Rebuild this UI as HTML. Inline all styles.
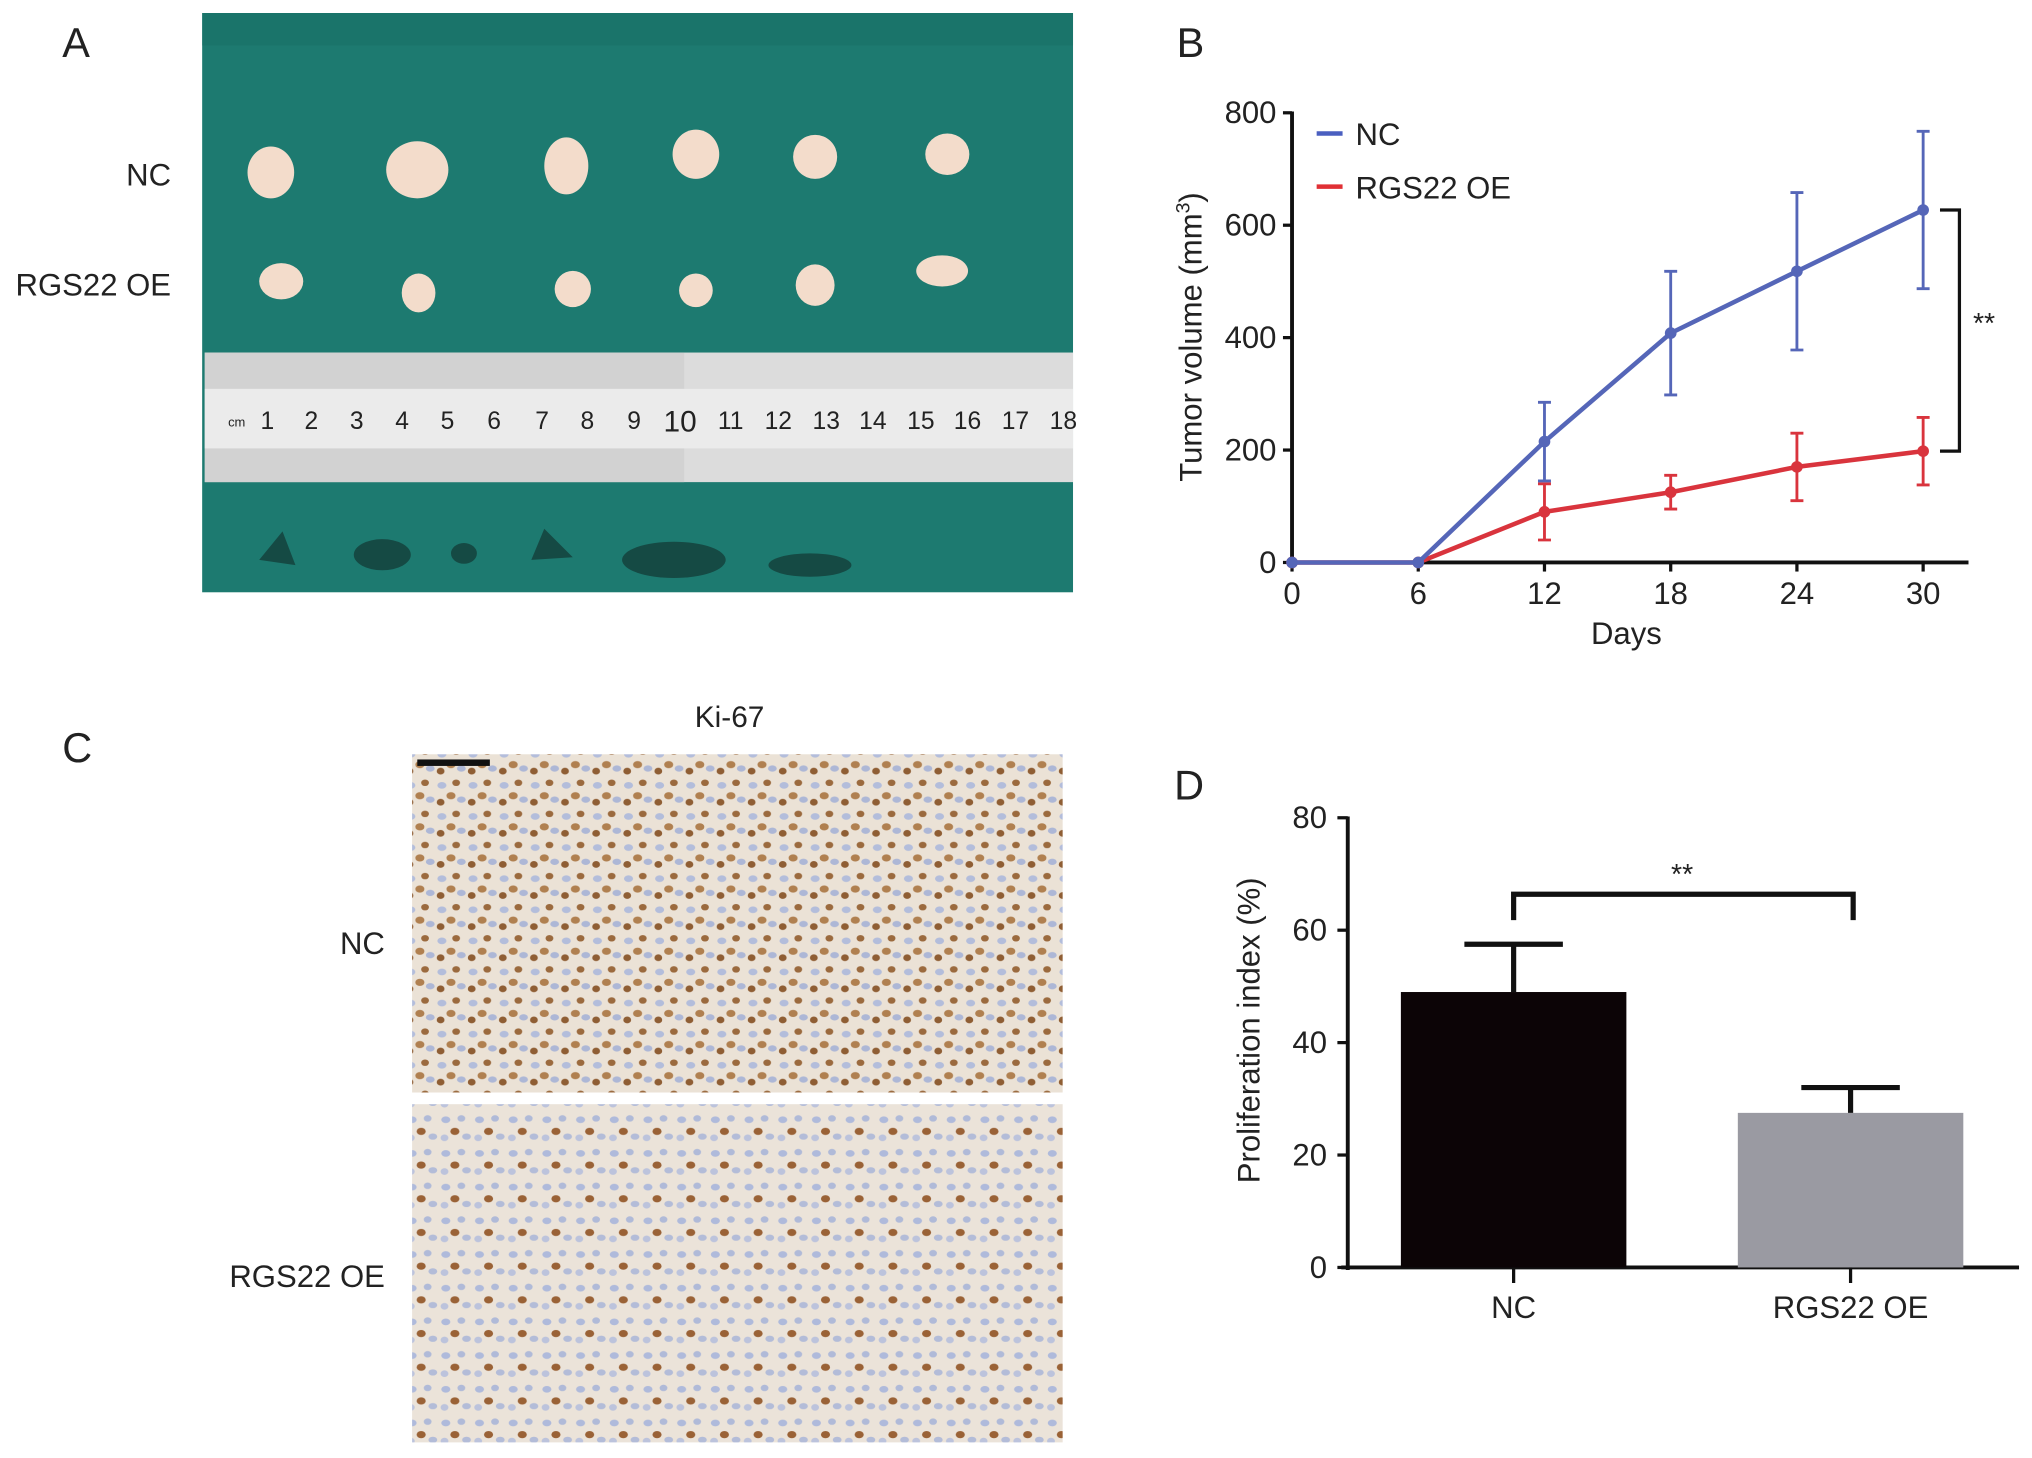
<!DOCTYPE html>
<html><head><meta charset="utf-8"><style>
html,body{margin:0;padding:0;background:#fff}
svg{display:block}
text{font-family:"Liberation Sans",Arial,sans-serif;fill:#222}
</style></head><body>
<svg id="fig" width="2032" height="1458" viewBox="0 0 1568 1125" xmlns="http://www.w3.org/2000/svg">
<defs>
<pattern id="tissueA" width="24" height="24" patternUnits="userSpaceOnUse">
<rect width="24" height="24" fill="#ebe2d6"/>
<ellipse cx="5" cy="6" rx="3.5" ry="2.6" fill="#b3bddb"/>
<ellipse cx="16" cy="4" rx="3" ry="2.5" fill="#9b6a3e"/>
<ellipse cx="12" cy="14" rx="3.5" ry="2.8" fill="#b08050"/>
<ellipse cx="20" cy="17" rx="3.4" ry="2.4" fill="#adb7d6"/>
<ellipse cx="4" cy="19" rx="3" ry="2.6" fill="#8f5e34"/>
</pattern>
<pattern id="tissueB" width="26" height="26" patternUnits="userSpaceOnUse">
<rect width="26" height="26" fill="#ebe3d9"/>
<ellipse cx="6" cy="6" rx="3.5" ry="2.6" fill="#afbadb"/>
<ellipse cx="18" cy="5" rx="3" ry="2.5" fill="#b0bad8"/>
<ellipse cx="13" cy="15" rx="3.5" ry="2.8" fill="#9a6236"/>
<ellipse cx="22" cy="19" rx="3.4" ry="2.4" fill="#b3bcd8"/>
<ellipse cx="5" cy="20" rx="3" ry="2.6" fill="#bcc3dc"/>
</pattern>
</defs>

<!-- Panel A -->
<text x="48" y="44" font-size="32">A</text>
<g>
<rect x="156" y="10" width="672" height="447" fill="#1d7a70"/>
<rect x="156" y="10" width="672" height="25" fill="#186d63" opacity="0.5"/>
<g fill="#f3dccb">
<ellipse cx="209" cy="133" rx="18" ry="20"/><ellipse cx="322" cy="131" rx="24" ry="22"/><ellipse cx="437" cy="128" rx="17" ry="22"/>
<ellipse cx="537" cy="119" rx="18" ry="19"/><ellipse cx="629" cy="121" rx="17" ry="17"/><ellipse cx="731" cy="119" rx="17" ry="16"/>
<ellipse cx="217" cy="217" rx="17" ry="14"/><ellipse cx="323" cy="226" rx="13" ry="15"/><ellipse cx="442" cy="223" rx="14" ry="14"/>
<ellipse cx="537" cy="224" rx="13" ry="13"/><ellipse cx="629" cy="220" rx="15" ry="16"/><ellipse cx="727" cy="209" rx="20" ry="12"/>
</g>
<g>
<rect x="158" y="272" width="670" height="100" fill="#dcdcdc"/>
<rect x="158" y="272" width="370" height="100" fill="#d2d2d2"/>
<rect x="158" y="300" width="670" height="46" fill="#ebebeb"/>
<g font-size="19" fill="#333">
<text x="176" y="329" font-size="10">cm</text>
<text x="201" y="331">1</text><text x="235" y="331">2</text><text x="270" y="331">3</text><text x="305" y="331">4</text><text x="340" y="331">5</text><text x="376" y="331">6</text><text x="413" y="331">7</text><text x="448" y="331">8</text><text x="484" y="331">9</text>
<text x="512" y="333" font-size="23" fill="#d23a5a">10</text>
<text x="554" y="331">11</text><text x="590" y="331">12</text><text x="627" y="331">13</text><text x="663" y="331">14</text><text x="700" y="331">15</text><text x="736" y="331">16</text><text x="773" y="331">17</text><text x="810" y="331">18</text>
</g>
</g>
<g fill="#154a44">
<path d="M200 432 L218 410 L228 436 Z"/><ellipse cx="295" cy="428" rx="22" ry="12"/><ellipse cx="358" cy="427" rx="10" ry="8"/>
<path d="M410 432 L420 408 L442 430 Z"/><ellipse cx="520" cy="432" rx="40" ry="14"/><ellipse cx="625" cy="436" rx="32" ry="9"/>
</g>
</g>
<text x="132" y="143" font-size="24" text-anchor="end">NC</text>
<text x="132" y="228" font-size="24" text-anchor="end">RGS22 OE</text>

<!-- Panel C -->
<text x="48" y="588" font-size="32">C</text>
<text x="563" y="561" font-size="23" text-anchor="middle">Ki-67</text>
<rect x="318" y="582" width="502" height="261" fill="url(#tissueA)"/>
<rect x="318" y="852" width="502" height="261" fill="url(#tissueB)"/>
<rect x="322" y="586" width="56" height="5" fill="#111"/>
<text x="297" y="736" font-size="24" text-anchor="end">NC</text>
<text x="297" y="993" font-size="24" text-anchor="end">RGS22 OE</text>

<!-- Panel B -->
<text x="908" y="44" font-size="32">B</text>
<g id="chartB"></g>

<!-- Panel D -->
<text x="906" y="617" font-size="32">D</text>
<g id="chartD"></g>
</svg>
<script>
const daysB = [0, 6, 12, 18, 24, 30];
const ncMean = [0, 0, 215, 408, 518, 627];
const ncErr = [0, 0, 70, 110, 140, 140];
const oeMean = [0, 0, 90, 125, 170, 198];
const oeErr = [0, 0, 50, 30, 60, 60];
const yTicksB = [0, 200, 400, 600, 800];

const groupsD = ["NC", "RGS22 OE"];
const valuesD = [49, 27.5];
const errD = [8.5, 4.5];
const yTicksD = [0, 20, 40, 60, 80];

const NS = "http://www.w3.org/2000/svg";
function mk(parent, tag, attrs, txt) {
  const e = document.createElementNS(NS, tag);
  for (const k in attrs) e.setAttribute(k, attrs[k]);
  if (txt !== undefined) e.textContent = txt;
  parent.appendChild(e);
  return e;
}

// Chart B
const gB = document.getElementById('chartB');
const xB = d => 997 + (d - 0) / 30 * (1484 - 997);
const yB = v => 434 - v / 800 * (434 - 87);
let e;
e = mk(gB, 'line', {x1: 997, y1: 86, x2: 997, y2: 436, stroke: '#111', 'stroke-width': 3});
 
e = mk(gB, 'line', {x1: 995, y1: 434, x2: 1519, y2: 434, stroke: '#111', 'stroke-width': 3});
 
yTicksB.forEach(t => {
  mk(gB, 'line', {x1: 990, y1: yB(t), x2: 997, y2: yB(t), stroke: '#111', 'stroke-width': 2.5});
  e = mk(gB, 'text', {x: 985, y: yB(t) + 8, 'font-size': 24, 'text-anchor': 'end'}, t);
   
});
daysB.forEach(d => {
  mk(gB, 'line', {x1: xB(d), y1: 434, x2: xB(d), y2: 441, stroke: '#111', 'stroke-width': 2.5});
  e = mk(gB, 'text', {x: xB(d), y: 466, 'font-size': 24, 'text-anchor': 'middle'}, d);
   
});
e = mk(gB, 'text', {x: 1255, y: 497, 'font-size': 24, 'text-anchor': 'middle'}, 'Days');
 
e = mk(gB, 'text', {x: 0, y: 0, 'font-size': 24, 'text-anchor': 'middle', transform: 'translate(927,260) rotate(-90)'});
 
e.innerHTML = 'Tumor volume (mm<tspan dy="-9" font-size="15">3</tspan><tspan dy="9">)</tspan>';

function series(mean, err, color, name) {
  const g = mk(gB, 'g', {});
   
  const pts = daysB.map((d, i) => xB(d) + ',' + yB(mean[i])).join(' ');
  const pl = mk(g, 'polyline', {points: pts, fill: 'none', stroke: color, 'stroke-width': 3.5});
   
  daysB.forEach((d, i) => {
    if (err[i] > 0) {
      const x = xB(d);
      const eb = mk(g, 'path', {d: `M${x} ${yB(mean[i]+err[i])} V${yB(mean[i]-err[i])} M${x-5} ${yB(mean[i]+err[i])} h10 M${x-5} ${yB(mean[i]-err[i])} h10`, stroke: color, 'stroke-width': 2.2, fill: 'none'});
       
    }
    const p = mk(g, 'circle', {cx: xB(d), cy: yB(mean[i]), r: 4.5, fill: color});
     
  });
}
series(oeMean, oeErr, '#d9343d', 'oe-series');
series(ncMean, ncErr, '#5566b8', 'nc-series');

// legend
e = mk(gB, 'line', {x1: 1016, y1: 103, x2: 1036, y2: 103, stroke: '#4a5fc0', 'stroke-width': 3.5});
 
e = mk(gB, 'text', {x: 1046, y: 112, 'font-size': 24}, 'NC');
 
e = mk(gB, 'line', {x1: 1016, y1: 144, x2: 1036, y2: 144, stroke: '#e03035', 'stroke-width': 3.5});
 
e = mk(gB, 'text', {x: 1046, y: 153, 'font-size': 24}, 'RGS22 OE');
 
// significance bracket
const bx = 1512;
e = mk(gB, 'path', {d: `M1497 ${yB(ncMean[5])} H${bx} V${yB(oeMean[5])} H1497`, stroke: '#111', 'stroke-width': 2.5, fill: 'none'});
 
e = mk(gB, 'text', {x: 1531, y: 257, 'font-size': 22, 'text-anchor': 'middle'}, '**');
 

// Chart D
const gD = document.getElementById('chartD');
const yD = v => 978 - v / 80 * (978 - 631);
const centersD = [1168, 1428];
const colorsD = ['#0c0406', '#9a9aa2'];
const halfW = 87;
e = mk(gD, 'line', {x1: 1040, y1: 630, x2: 1040, y2: 980, stroke: '#111', 'stroke-width': 3});
 
e = mk(gD, 'line', {x1: 1035, y1: 978, x2: 1558, y2: 978, stroke: '#111', 'stroke-width': 3});
 
yTicksD.forEach(t => {
  mk(gD, 'line', {x1: 1032, y1: yD(t), x2: 1040, y2: yD(t), stroke: '#111', 'stroke-width': 2.5});
  e = mk(gD, 'text', {x: 1024, y: yD(t) + 8, 'font-size': 24, 'text-anchor': 'end'}, t);
   
});
groupsD.forEach((gname, i) => {
  const cx = centersD[i];
  const r = mk(gD, 'rect', {x: cx - halfW, y: yD(valuesD[i]), width: halfW * 2, height: yD(0) - yD(valuesD[i]), fill: colorsD[i]});
   
  const top = yD(valuesD[i] + errD[i]);
  const eb = mk(gD, 'path', {d: `M${cx} ${yD(valuesD[i])} V${top} M${cx-38} ${top} H${cx+38}`, stroke: '#111', 'stroke-width': 4, fill: 'none'});
   
  mk(gD, 'line', {x1: cx, y1: 978, x2: cx, y2: 990, stroke: '#111', 'stroke-width': 2.5});
  const t = mk(gD, 'text', {x: cx, y: 1017, 'font-size': 24, 'text-anchor': 'middle'}, gname);
   
});
e = mk(gD, 'path', {d: `M${centersD[0]} 710 V690 H${centersD[1]+2} V710`, stroke: '#111', 'stroke-width': 4, fill: 'none'});
 
e = mk(gD, 'text', {x: 1298, y: 682, 'font-size': 22, 'text-anchor': 'middle'}, '**');
 
e = mk(gD, 'text', {x: 0, y: 0, 'font-size': 24, 'text-anchor': 'middle', transform: 'translate(972,795) rotate(-90)'}, 'Proliferation index (%)');
 
</script>
</body></html>
